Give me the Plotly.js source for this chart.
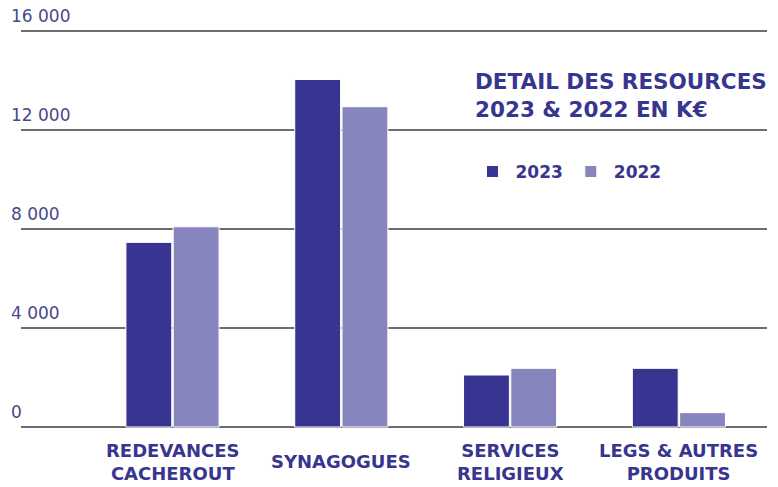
<!DOCTYPE html>
<html>
<head>
<meta charset="utf-8">
<script src="https://cdn.plot.ly/plotly-3.0.1.min.js"></script>
<style>html,body{margin:0;padding:0;background:#fff;}#chart{width:778px;height:487px;}</style>
</head>
<body>
<div id="chart"></div>
<script>
var categories = ["REDEVANCES<br>CACHEROUT", "SYNAGOGUES", "SERVICES<br>RELIGIEUX", "LEGS & AUTRES<br>PRODUITS"];
var values2023 = [7460, 14040, 2100, 2370];
var values2022 = [8090, 12940, 2370, 580];
var tickVals = [0, 4000, 8000, 12000, 16000];
var tickText = ["0", "4 000", "8 000", "12 000", "16 000"];
var seriesNames = ["2023", "2022"];

var dark = "#373591";
var light = "#8785bd";
var navy = "#38358f";

var traces = [
  {type: "bar", name: seriesNames[0], x: categories, y: values2023,
   marker: {color: dark, line: {color: "#ffffff", width: 1}}},
  {type: "bar", name: seriesNames[1], x: categories, y: values2022,
   marker: {color: light, line: {color: "#ffffff", width: 1}}}
];

var L = 8, R = 767;
var unit = 168.8;
var r0 = -(172.5 - L) / unit;
var r1 = r0 + (R - L) / unit;
var T = 6, B = 437;
var s = 396 / 16000;
var yr0 = -(B - 427) / s;
var yr1 = 16000 + (31 - T) / s;

var shapes = tickVals.map(function (v) {
  return {type: "line", xref: "paper", yref: "y", x0: (21 - L) / (R - L), x1: 1, y0: v, y1: v,
          line: {color: "#3c3c3c", width: 1.6}, layer: "below"};
});

var annotations = categories.map(function (c) {
  return {x: c, xref: "x", y: -0.057, yref: "paper", yanchor: "middle", xanchor: "center",
          text: c, showarrow: false, align: "center",
          font: {family: "DejaVu Sans", size: 18, color: navy, weight: 700}};
});

var layout = {
  width: 778, height: 487,
  margin: {l: L, r: 778 - R, t: T, b: 487 - B, pad: 0},
  paper_bgcolor: "#ffffff", plot_bgcolor: "#ffffff",
  barmode: "group", bargap: 0.44, bargroupgap: 0.03,
  showlegend: true,
  legend: {orientation: "h", x: 0.608, xanchor: "left", y: 0.615, yanchor: "middle",
           itemwidth: 36,
           font: {family: "DejaVu Sans", size: 17, color: navy, weight: 700},
           bgcolor: "rgba(0,0,0,0)"},
  title: {text: "DETAIL DES RESOURCES<br>2023 & 2022 EN K€", xref: "container", x: 475 / 778,
          xanchor: "left", yref: "container", y: 1 - 89 / 487, yanchor: "top",
          font: {family: "DejaVu Sans", size: 21.5, color: navy, weight: 700}},
  xaxis: {type: "category", range: [r0, r1], showticklabels: false, showgrid: false,
          zeroline: false, showline: false, ticks: ""},
  yaxis: {range: [yr0, yr1], tickvals: tickVals, ticktext: tickText,
          ticklabelposition: "inside top", ticklabelshift: -3, showgrid: false, zeroline: false, showline: false,
          ticks: "", tickfont: {family: "DejaVu Sans", size: 17, color: "#4a4889"}},
  shapes: shapes,
  annotations: annotations
};

Plotly.newPlot("chart", traces, layout, {displayModeBar: false, staticPlot: true});
</script>
</body>
</html>
